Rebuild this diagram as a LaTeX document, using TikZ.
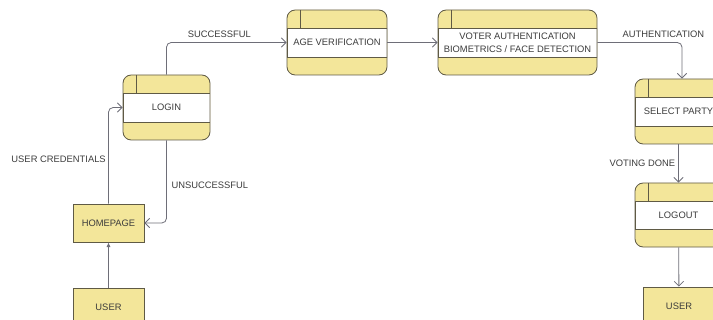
\documentclass[tikz,border=0pt]{standalone}
\usepackage{fontspec}
\setmainfont{Liberation Sans}
\usetikzlibrary{arrows.meta, positioning}
\definecolor{procyellow}{HTML}{F3E69A}
\definecolor{boxline}{HTML}{5F5A45}
\definecolor{flowline}{HTML}{6E6E78}
\definecolor{lbltext}{HTML}{3C3C3C}

\begin{document}
\begin{tikzpicture}[x=0.03cm, y=-0.03cm,
  proc/.style={draw=boxline, fill=procyellow, rounded corners=7pt, line width=0.7pt,
               minimum height=1.95cm, inner sep=1pt, align=center,
               font=\fontsize{8pt}{11pt}\selectfont, text=lbltext,
               path picture={
                 \coordinate (nw) at (path picture bounding box.north west);
                 \coordinate (se) at (path picture bounding box.south east);
                 \filldraw[sharp corners, fill=white, draw=boxline, line width=0.7pt]
                   ([yshift=-0.54cm]nw) rectangle ([yshift=0.54cm]se);
                 \draw[sharp corners, boxline, line width=0.7pt]
                   ([xshift=0.39cm]nw) -- ++(0,-0.54cm);
               }},
  ext/.style={draw=boxline, fill=procyellow, line width=0.7pt,
              minimum width=2.13cm, minimum height=1.14cm,
              font=\fontsize{8pt}{11pt}\selectfont, text=lbltext},
  flow/.style={draw=flowline, line width=0.7pt, rounded corners=4pt,
               -{Straight Barb[length=4pt, width=8pt]}},
  lbl/.style={font=\fontsize{8pt}{10pt}\selectfont, text=lbltext, inner sep=0pt}
]
  \useasboundingbox (0,0) rectangle (713,320);
  % processes
  \node[proc, minimum width=2.61cm] (login)  at (166.5,107.5) {LOGIN};
  \node[proc, minimum width=3.00cm] (agever) at (337,42.5) {AGE VERIFICATION};
  \node[proc, minimum width=4.77cm] (voterauth) at (517.5,42.5)
    {VOTER AUTHENTICATION\\BIOMETRICS / FACE DETECTION};
  \node[proc, minimum width=2.61cm] (party)  at (678.5,111.5) {SELECT PARTY};
  \node[proc, minimum width=2.61cm, minimum height=1.92cm] (logout) at (678.5,215) {LOGOUT};
  % external entities
  \node[ext] (homepage) at (108.5,223) {HOMEPAGE};
  \node[ext] (userin)   at (108.5,307) {USER};
  \node[ext] (userout)  at (679,306) {USER};
  % flows
  \draw[draw=flowline, line width=0.7pt, -{Latex[length=4pt, width=3.5pt]}]
    (userin) -- (homepage);
  \draw[flow] (homepage.north) |- (login.west)
    node[lbl, pos=0.23, left=2pt] {USER CREDENTIALS};
  \draw[flow] (login.south) |- (homepage.east)
    node[lbl, pos=0.27, right=4pt] {UNSUCCESSFUL};
  \draw[flow] (login.north) |- (agever.west)
    node[lbl, pos=0.72, above=4pt] {SUCCESSFUL};
  \draw[flow] (agever) -- (voterauth);
  \draw[flow] (voterauth.east) -| ([xshift=3.5*0.03cm]party.north)
    node[lbl, pos=0.39, above=4pt] {AUTHENTICATION};
  \draw[flow] (party.south) -- (logout.north)
    node[lbl, midway, left=2.5pt] {VOTING DONE};
  \draw[flow] (logout) -- (userout);
\end{tikzpicture}
\end{document}
